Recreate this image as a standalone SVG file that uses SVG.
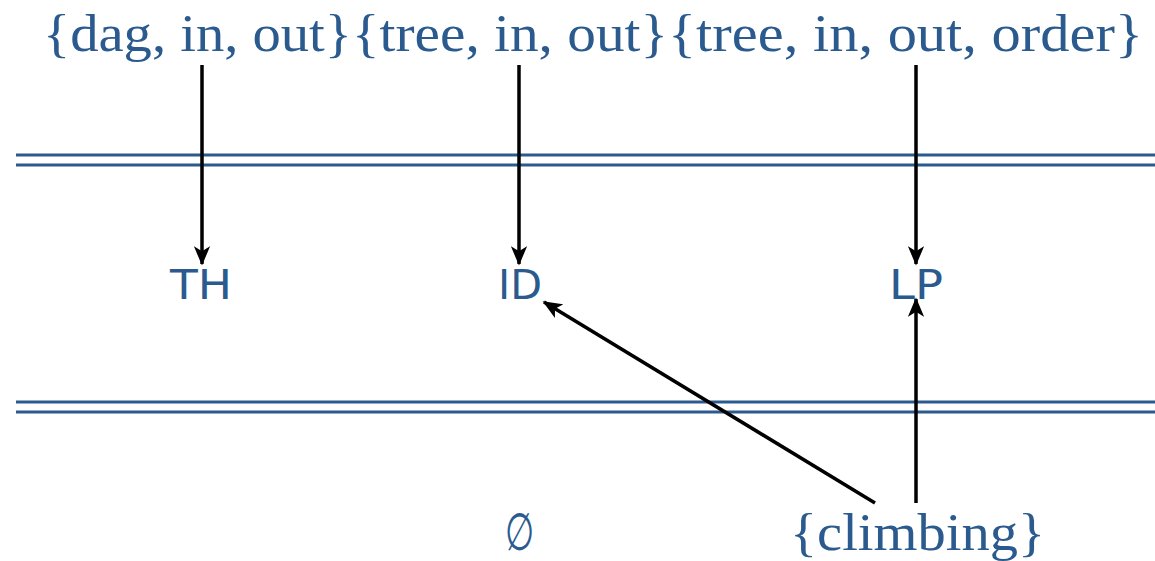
<svg xmlns="http://www.w3.org/2000/svg" width="1155" height="561" viewBox="0 0 1155 561">
<defs>
<style>
.m{font-family:"Liberation Serif","DejaVu Serif",serif;font-size:52px;fill:#2b5b8e}
.s{font-family:"DejaVu Sans","Liberation Sans",sans-serif;font-size:41px;fill:#2b5b8e}
.rule{stroke:#2b5b8e;stroke-width:3;fill:none}
.e{stroke:#000;stroke-width:3.5;fill:none;marker-end:url(#ah)}
</style>
<marker id="ah" viewBox="0 0 12 10" refX="11" refY="5" markerWidth="5.5" markerHeight="4.6" orient="auto" markerUnits="strokeWidth">
<path d="M0,0 L12,5 L0,10 L3,5 Z" fill="#000"/>
</marker>
</defs>
<g id="rules">
<line class="rule" x1="16" y1="155" x2="1155" y2="155"/>
<line class="rule" x1="16" y1="165" x2="1155" y2="165"/>
<line class="rule" x1="16" y1="402" x2="1155" y2="402"/>
<line class="rule" x1="16" y1="412" x2="1155" y2="412"/>
</g>
<g id="n-dag"><text class="m" x="43" y="51" textLength="309" lengthAdjust="spacingAndGlyphs">{dag, in, out}</text></g>
<g id="n-tree"><text class="m" x="352" y="51" textLength="316" lengthAdjust="spacingAndGlyphs">{tree, in, out}</text></g>
<g id="n-order"><text class="m" x="668" y="51" textLength="475" lengthAdjust="spacingAndGlyphs">{tree, in, out, order}</text></g>
<g id="n-TH"><text class="s" x="170" y="299" textLength="62" lengthAdjust="spacingAndGlyphs">TH</text></g>
<g id="n-ID"><text class="s" x="498" y="299" textLength="44" lengthAdjust="spacingAndGlyphs">ID</text></g>
<g id="n-LP"><text class="s" x="889" y="299" textLength="54" lengthAdjust="spacingAndGlyphs">LP</text></g>
<g id="n-empty"><text class="m" x="505" y="550" textLength="29" lengthAdjust="spacingAndGlyphs">∅</text></g>
<g id="n-climbing"><text class="m" x="790" y="550" textLength="255" lengthAdjust="spacingAndGlyphs">{climbing}</text></g>
<g id="edges">
<line class="e" x1="202" y1="65" x2="202" y2="264"/>
<line class="e" x1="519" y1="65" x2="519" y2="264"/>
<line class="e" x1="916" y1="65" x2="916" y2="264"/>
<line class="e" x1="875" y1="503" x2="544" y2="302"/>
<line class="e" x1="916" y1="503" x2="916" y2="299"/>
</g>
</svg>
